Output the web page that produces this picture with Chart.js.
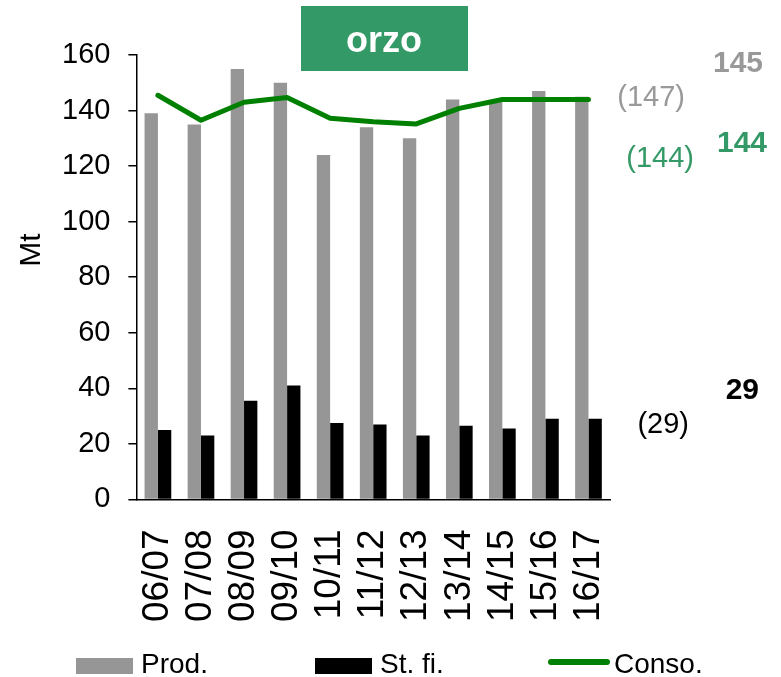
<!DOCTYPE html>
<html lang="it">
<head>
    <meta charset="UTF-8">
    <title>orzo</title>
    <script src="https://cdn.jsdelivr.net/npm/chart.js"></script>
    <style>
        body {
            margin: 0;
            padding: 0;
            background: #ffffff;
        }

        #wrap {
            position: relative;
            width: 781px;
            height: 677px;
        }
    </style>
</head>
<body>
    <div id="wrap">
        <canvas id="orzoChart" width="781" height="677"></canvas>
    </div>

    <script>
        // Data
        var campagne = ['06/07', '07/08', '08/09', '09/10', '10/11', '11/12', '12/13', '13/14', '14/15', '15/16', '16/17'];
        var prod = [139, 135, 155, 150, 124, 134, 130, 144, 143, 147, 145];
        var stockFinali = [25, 23, 35.5, 41, 27.5, 27, 23, 26.5, 25.5, 29, 29];
        var consumi = [145.5, 136.5, 143, 144.7, 137.2, 136, 135.2, 140.8, 144, 144, 144];
        var yTicks = [0, 20, 40, 60, 80, 100, 120, 140, 160];

        // Side notes (estimate / previous estimate)
        var sideNotes = [
            { text: '145', color: '#999999', bold: true, dx: 153, dy: 17 },
            { text: '(147)', color: '#999999', bold: false, dx: 75, dy: 51 },
            { text: '144', color: '#339966', bold: true, dx: 157, dy: 97 },
            { text: '(144)', color: '#339966', bold: false, dx: 84, dy: 112 },
            { text: '29', color: '#000000', bold: true, dx: 149, dy: 344 },
            { text: '(29)', color: '#000000', bold: false, dx: 79, dy: 378 }
        ];

        var FONT = "'Liberation Sans', Arial, sans-serif";

        // Title box, y axis unit, notes and legend
        var extrasPlugin = {
            id: 'extras',
            afterDraw: function(chart) {
                var ctx = chart.ctx;
                var area = chart.chartArea;
                ctx.save();

                // green title box
                ctx.fillStyle = '#339966';
                ctx.fillRect(301, 6, 167, 65);
                ctx.fillStyle = '#ffffff';
                ctx.font = 'bold 36px ' + FONT;
                ctx.textAlign = 'center';
                ctx.textBaseline = 'alphabetic';
                ctx.fillText('orzo', 384, 52);

                // unit
                ctx.save();
                ctx.translate(32, 250);
                ctx.rotate(-Math.PI / 2);
                ctx.fillStyle = '#000000';
                ctx.font = '30px ' + FONT;
                ctx.textBaseline = 'middle';
                ctx.fillText('Mt', 0, 0);
                ctx.restore();

                // notes on the right
                ctx.textAlign = 'right';
                sideNotes.forEach(function(n) {
                    ctx.fillStyle = n.color;
                    ctx.font = (n.bold ? 'bold 30px ' : '29px ') + FONT;
                    ctx.fillText(n.text, area.right + n.dx, area.top + n.dy);
                });

                // legend
                var ds = chart.data.datasets;
                var items = [
                    { text: ds[1].label, color: ds[1].backgroundColor, kind: 'box', x: 76 },
                    { text: ds[2].label, color: ds[2].backgroundColor, kind: 'box', x: 315 },
                    { text: ds[0].label, color: ds[0].borderColor, kind: 'line', x: 548 }
                ];
                ctx.textAlign = 'left';
                ctx.font = '28px ' + FONT;
                items.forEach(function(it) {
                    if (it.kind === 'box') {
                        ctx.fillStyle = it.color;
                        ctx.fillRect(it.x, 658, 57, 16);
                    } else {
                        ctx.strokeStyle = it.color;
                        ctx.lineWidth = 6;
                        ctx.lineCap = 'round';
                        ctx.beginPath();
                        ctx.moveTo(it.x + 3, 662);
                        ctx.lineTo(it.x + 59, 662);
                        ctx.stroke();
                    }
                    ctx.fillStyle = '#000000';
                    ctx.fillText(it.text, it.x + (it.kind === 'box' ? 65 : 66), 673);
                });

                ctx.restore();
            }
        };

        var ctx = document.getElementById('orzoChart').getContext('2d');

        var chart = new Chart(ctx, {
            type: 'bar',
            data: {
                labels: campagne,
                datasets: [
                    {
                        type: 'line',
                        label: 'Conso.',
                        data: consumi,
                        borderColor: '#008000',
                        backgroundColor: '#008000',
                        borderWidth: 5,
                        pointRadius: 0,
                        tension: 0,
                        borderCapStyle: 'round',
                        borderJoinStyle: 'round',
                        order: 0
                    },
                    {
                        label: 'Prod.',
                        data: prod,
                        backgroundColor: '#969696',
                        categoryPercentage: 0.62,
                        barPercentage: 1.0,
                        order: 1
                    },
                    {
                        label: 'St. fi.',
                        data: stockFinali,
                        backgroundColor: '#000000',
                        categoryPercentage: 0.62,
                        barPercentage: 1.0,
                        order: 1
                    }
                ]
            },
            options: {
                responsive: false,
                animation: false,
                layout: {
                    padding: { top: 55, right: 171, left: 44, bottom: 25 }
                },
                scales: {
                    x: {
                        grid: { display: false, drawTicks: false },
                        border: { display: true, color: '#000000', width: 1.5 },
                        ticks: {
                            color: '#000000',
                            font: { family: FONT, size: 37 },
                            minRotation: 90,
                            maxRotation: 90,
                            autoSkip: false,
                            padding: 30
                        }
                    },
                    y: {
                        min: 0,
                        max: 160,
                        afterBuildTicks: function(axis) {
                            axis.ticks = yTicks.map(function(v) { return { value: v }; });
                        },
                        grid: {
                            drawOnChartArea: false,
                            drawTicks: true,
                            tickLength: 8,
                            color: '#000000',
                            lineWidth: 1.5
                        },
                        border: { display: true, color: '#000000', width: 1.5 },
                        ticks: {
                            color: '#000000',
                            font: { family: FONT, size: 29 },
                            padding: 18
                        }
                    }
                },
                plugins: {
                    tooltip: { enabled: false },
                    legend: { display: false }
                }
            },
            plugins: [extrasPlugin]
        });
    </script>
</body>
</html>
